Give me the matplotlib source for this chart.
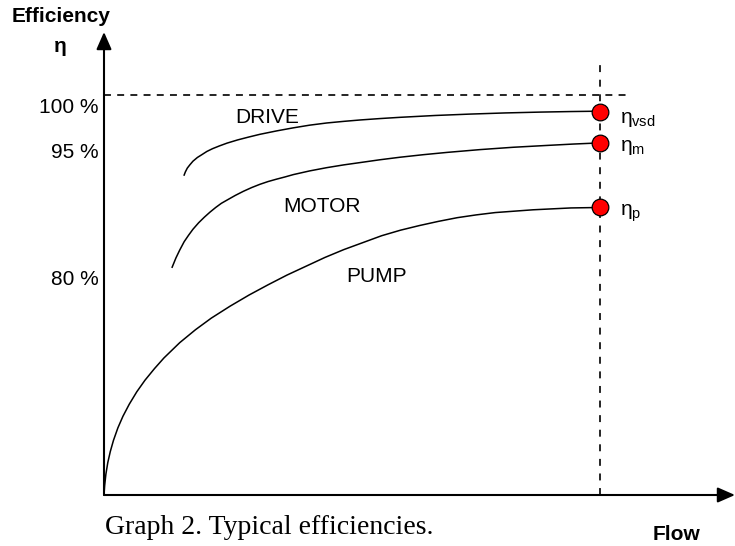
import matplotlib
matplotlib.use("Agg")
import matplotlib.pyplot as plt

plt.rcParams['font.family'] = ['Liberation Sans', 'DejaVu Sans']
plt.rcParams['mathtext.fontset'] = 'custom'
plt.rcParams['mathtext.rm'] = 'Liberation Sans'
plt.rcParams['mathtext.it'] = 'Liberation Sans'
plt.rcParams['lines.scale_dashes'] = False

# flow (0..1 of the axis) and efficiency (0..1 of the axis height)
pump_flow = [0, 0.001, 0.003, 0.006, 0.010, 0.015, 0.022, 0.030, 0.040, 0.052, 0.065,
             0.080, 0.095, 0.120, 0.145, 0.170, 0.200, 0.230, 0.260, 0.290, 0.320,
             0.350, 0.380, 0.410, 0.440, 0.470, 0.500, 0.530, 0.560, 0.590, 0.620,
             0.650, 0.680, 0.710, 0.740, 0.786]
pump_eff = [0, 0.020, 0.045, 0.070, 0.094, 0.118, 0.145, 0.170, 0.196, 0.223, 0.248,
            0.273, 0.296, 0.329, 0.357, 0.382, 0.408, 0.432, 0.454, 0.475, 0.494,
            0.513, 0.530, 0.545, 0.560, 0.572, 0.582, 0.591, 0.599, 0.605, 0.610,
            0.613, 0.616, 0.618, 0.620, 0.621]

motor_flow = [0.108, 0.114, 0.120, 0.127, 0.134, 0.141, 0.150, 0.159, 0.168, 0.177,
              0.186, 0.195, 0.208, 0.221, 0.234, 0.247, 0.260, 0.273, 0.287, 0.300,
              0.326, 0.353, 0.380, 0.406, 0.437, 0.469, 0.506, 0.544, 0.570, 0.596,
              0.622, 0.648, 0.675, 0.702, 0.744, 0.786]
motor_eff = [0.492, 0.512, 0.529, 0.547, 0.561, 0.574, 0.588, 0.600, 0.611, 0.621,
             0.630, 0.637, 0.647, 0.656, 0.664, 0.671, 0.677, 0.682, 0.687, 0.692,
             0.700, 0.707, 0.713, 0.718, 0.724, 0.7295, 0.735, 0.740, 0.743, 0.746,
             0.7485, 0.751, 0.753, 0.755, 0.758, 0.7605]

drive_flow = [0.127, 0.129, 0.132, 0.136, 0.141, 0.148, 0.155, 0.163, 0.172, 0.183,
              0.195, 0.212, 0.229, 0.247, 0.274, 0.300, 0.326, 0.353, 0.380, 0.406,
              0.437, 0.469, 0.525, 0.580, 0.636, 0.691, 0.740, 0.786]
drive_eff = [0.691, 0.698, 0.706, 0.713, 0.721, 0.729, 0.735, 0.742, 0.748, 0.754,
             0.760, 0.767, 0.773, 0.779, 0.7865, 0.793, 0.7988, 0.8035, 0.807, 0.810,
             0.813, 0.8157, 0.8197, 0.8227, 0.8252, 0.827, 0.8282, 0.829]

rated_flow = 0.786
rated_eff = [0.827, 0.761, 0.622]
rated_labels = [r'$\eta_{\rm vsd}$', r'$\eta_{\rm m}$', r'$\eta_{\rm p}$']
rated_label_y = [0.8035, 0.743, 0.6026]

full_eff = 0.864
tick_pos = [0.842, 0.744, 0.469]
tick_labels = ['100 %', '95 %', '80 %']

fig = plt.figure(figsize=(7.35, 5.46), dpi=100)
ax = fig.add_axes([104 / 735, 51 / 546, 631 / 735, 463 / 546])
ax.set_xlim(0, 1)
ax.set_ylim(0, 1)

for s in ['top', 'right', 'left', 'bottom']:
    ax.spines[s].set_visible(False)
ax.set_xticks([])
ax.set_yticks(tick_pos, tick_labels, fontsize=15)
ax.tick_params(axis='y', length=0, pad=4)

arrow = dict(arrowstyle='-|>,head_length=1.05,head_width=0.46', lw=1.5, color='k',
             shrinkA=0, shrinkB=0)
ax.annotate('', xy=(1, 0), xytext=(0, 0), xycoords='axes fraction', arrowprops=arrow)
ax.annotate('', xy=(0, 1), xytext=(0, 0), xycoords='axes fraction', arrowprops=arrow)

ax.plot([0, 0.830], [full_eff, full_eff], color='k', lw=1.2, ls=(0, (5, 4.5)))
ax.plot([rated_flow, rated_flow], [0, 0.935], color='k', lw=1.2, ls=(0, (5, 5.5)))

ax.plot(pump_flow, pump_eff, color='k', lw=1.1)
ax.plot(motor_flow, motor_eff, color='k', lw=1.1)
ax.plot(drive_flow, drive_eff, color='k', lw=1.1)

ax.plot([rated_flow] * 3, rated_eff, 'o', ms=12, mfc='red', mec='k', mew=0.9, zorder=5)
for lab, y in zip(rated_labels, rated_label_y):
    ax.text(0.818, y, lab, fontsize=15, va='baseline', ha='left')

ax.text(0.258, 0.816, 'DRIVE', fontsize=15, ha='center', va='center')
ax.text(0.3455, 0.624, 'MOTOR', fontsize=15, ha='center', va='center')
ax.text(0.4326, 0.471, 'PUMP', fontsize=15, ha='center', va='center')

fig.text(61 / 735, 1 - 17 / 546, 'Efficiency', fontsize=15, fontweight='bold',
         ha='center', va='center')
fig.text(60 / 735, 1 - 46 / 546, 'η', fontsize=15, fontweight='bold',
         ha='center', va='center')
fig.text(676 / 735, 1 - 535 / 546, 'Flow', fontsize=15, fontweight='bold',
         ha='center', va='center')
fig.text(105 / 735, 1 - 534 / 546, 'Graph 2. Typical efficiencies.', fontsize=20,
         family='Liberation Serif', ha='left', va='baseline')

fig.savefig('out.png', dpi=100)
